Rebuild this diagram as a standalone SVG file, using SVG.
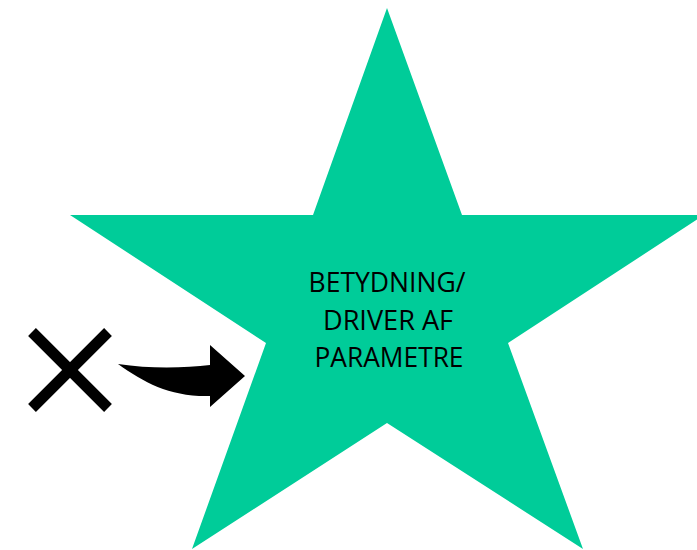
<svg xmlns="http://www.w3.org/2000/svg" width="697" height="550" viewBox="0 0 697 550">
<style>
.star{fill:#00CC99;}
.lbl{font-family:"Open Sans","Liberation Sans",sans-serif;font-size:28px;fill:#000;text-anchor:middle;}
.x{stroke:#000;stroke-width:11;stroke-linecap:butt;fill:none;}
</style>
<g id="star">
<polygon class="star" points="387,8 462,215 704,215 508,343 583,549 387,423 192,549 266,343 70,215 313,215"/>
<text class="lbl" x="387" y="292" textLength="157" lengthAdjust="spacingAndGlyphs">BETYDNING/</text>
<text class="lbl" x="388" y="330" textLength="130" lengthAdjust="spacingAndGlyphs">DRIVER AF</text>
<text class="lbl" x="389" y="367" textLength="149" lengthAdjust="spacingAndGlyphs">PARAMETRE</text>
</g>
<g id="cross">
<line class="x" x1="32" y1="332" x2="108" y2="408"/>
<line class="x" x1="108" y1="332" x2="32" y2="408"/>
</g>
<g id="connectors">
<path d="M118,364 C150,369 185,368 210,365 L210,345 L245,376 L210,407 L210,396 C170,397 145,383 118,364 Z" fill="#000"/>
</g>
</svg>
